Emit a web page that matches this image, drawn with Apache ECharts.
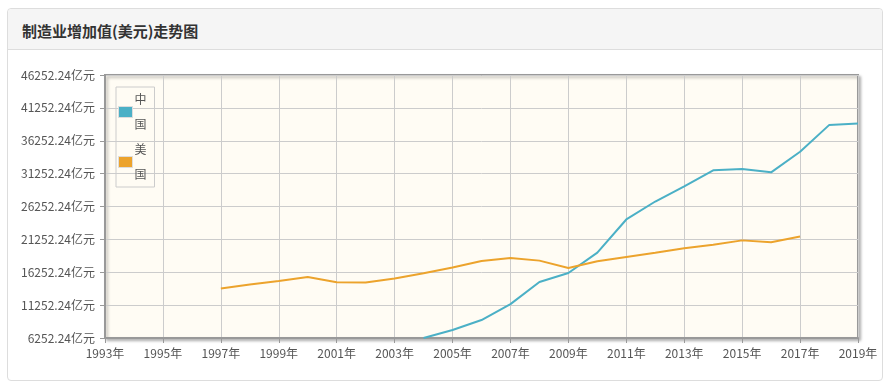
<!DOCTYPE html>
<html>
<head>
<meta charset="utf-8">
<script src="https://cdn.jsdelivr.net/npm/echarts@6/dist/echarts.min.js"></script>
<style>
  html, body { margin:0; padding:0; width:890px; height:387px; background:#fff; overflow:hidden; }
  #panel { position:absolute; left:7px; top:8px; width:874px; height:371px; border:1px solid #ddd; border-radius:4px; background:#fff; }
  #head { position:absolute; left:0; top:0; right:0; height:40px; background:#f5f5f5; border-bottom:1px solid #ddd; border-radius:4px 4px 0 0; }
  #title { position:absolute; left:14px; top:11px; font-family:"Microsoft YaHei","Noto Sans CJK SC",sans-serif; font-size:15px; font-weight:bold; color:#333; }
  #chart { position:absolute; left:0; top:0; width:890px; height:387px; }
</style>
</head>
<body>
<div id="panel"><div id="head"><div id="title">制造业增加值(美元)走势图</div></div></div>
<div id="chart"></div>
<script>
// Data (亿美元)
var years = ['1993','1994','1995','1996','1997','1998','1999','2000','2001','2002','2003','2004','2005','2006','2007','2008','2009','2010','2011','2012','2013','2014','2015','2016','2017','2018','2019'];
var seriesNames = ['中国', '美国'];
var chinaValues = [null,null,null,null,null,null,null,null,null,null,null,6252.24,7460,8980,11400,14780,16145,19236,24280,27010,29330,31750,31960,31450,34580,38630,38870];
var usValues = [null,null,null,null,13780,14390,14930,15540,14740,14690,15300,16100,16960,17960,18420,18020,16900,17920,18570,19210,19890,20450,21100,20800,21700,null,null];
var yMin = 6252.24, yMax = 46252.24, yStep = 5000;

var chart = echarts.init(document.getElementById('chart'), null, {renderer:'canvas'});
var font = '"Microsoft YaHei","Noto Sans CJK SC",sans-serif';
chart.setOption({
  animation: false,
  color: ['#4bb0c6', '#eca32c'],
  grid: {
    left: 105, right: 32, top: 75, bottom: 49,
    show: true, backgroundColor: '#fffcf4', borderColor: '#999', borderWidth: 2,
    shadowColor: 'rgba(0,0,0,0.25)', shadowBlur: 3, shadowOffsetX: 2, shadowOffsetY: 2
  },
  legend: {
    orient: 'vertical', left: 116, top: 87,
    data: seriesNames,
    formatter: function (n) { return n.split('').join('\n'); },
    itemWidth: 14, itemHeight: 11, itemGap: 0,
    padding: [0, 8, 0, 2],
    borderColor: '#ccc', borderWidth: 1,
    icon: 'rect',
    itemStyle: { borderColor: '#ddd', borderWidth: 1 },
    textStyle: { color: '#555', fontSize: 12, fontFamily: font, lineHeight: 25, padding: [0,0,0,-3] }
  },
  xAxis: {
    type: 'category', data: years.map(function (y) { return y + '年'; }),
    boundaryGap: false,
    axisLine: { lineStyle: { color: '#999', width: 2 } },
    axisTick: { show: true, interval: 1, length: 5, lineStyle: { color: '#999' } },
    axisLabel: { interval: 1, color: '#555', fontSize: 12, fontFamily: font, margin: 9 },
    splitLine: { show: true, interval: 1, lineStyle: { color: '#ccc', width: 1 } }
  },
  yAxis: {
    type: 'value', min: yMin, max: yMax, interval: yStep,
    axisLine: { show: true, lineStyle: { color: '#999', width: 2 } },
    axisTick: { show: true, length: 5, lineStyle: { color: '#999' } },
    axisLabel: { color: '#555', fontSize: 12, fontFamily: font, margin: 10,
      formatter: function (v) { return (Math.round(v * 100) / 100).toFixed(2) + '亿元'; } },
    splitLine: { show: true, lineStyle: { color: '#ccc', width: 1 } }
  },
  series: [
    { name: seriesNames[0], type: 'line', data: chinaValues, showSymbol: false, lineStyle: { width: 2 }, connectNulls: false },
    { name: seriesNames[1], type: 'line', data: usValues, showSymbol: false, lineStyle: { width: 2 }, connectNulls: false }
  ]
});
</script>
</body>
</html>
